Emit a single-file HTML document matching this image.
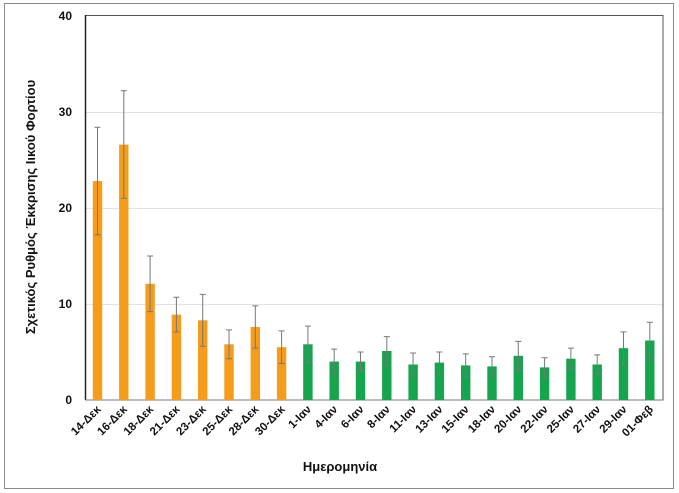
<!DOCTYPE html>
<html><head><meta charset="utf-8"><style>
html,body{margin:0;padding:0;background:#fff;}
svg{display:block;font-family:"Liberation Sans","DejaVu Sans",sans-serif;}
</style></head><body>
<svg width="679" height="493" viewBox="0 0 679 493" xmlns="http://www.w3.org/2000/svg">
<rect x="4.5" y="3.5" width="669" height="485" fill="#fff" stroke="#8a8a8a" stroke-width="1"/>
<g stroke="#e2e2e2" stroke-width="1">
<line x1="85" y1="304.5" x2="663" y2="304.5"/>
<line x1="85" y1="208.5" x2="663" y2="208.5"/>
<line x1="85" y1="112.5" x2="663" y2="112.5"/>
</g>
<rect x="85.5" y="15.5" width="577.5" height="384.5" fill="none" stroke="#555" stroke-width="1"/>
<line x1="85.5" y1="15" x2="85.5" y2="400" stroke="#222" stroke-width="1.5"/>
<line x1="85" y1="400" x2="663" y2="400" stroke="#777" stroke-width="1"/>
<g font-size="12" font-weight="bold" fill="#111" text-anchor="end">
<text x="72" y="404">0</text><text x="72" y="308">10</text><text x="72" y="212">20</text><text x="72" y="116">30</text><text x="72" y="20">40</text>
</g>
<g fill="#f59c1a">
<rect x="92.8" y="181.1" width="9.4" height="218.9"/>
<rect x="119.1" y="144.6" width="9.4" height="255.4"/>
<rect x="145.4" y="283.8" width="9.4" height="116.2"/>
<rect x="171.7" y="314.6" width="9.4" height="85.4"/>
<rect x="198.0" y="320.3" width="9.4" height="79.7"/>
<rect x="224.3" y="344.3" width="9.4" height="55.7"/>
<rect x="250.6" y="327.0" width="9.4" height="73.0"/>
<rect x="276.9" y="347.2" width="9.4" height="52.8"/>
</g>
<g fill="#14a54e">
<rect x="303.2" y="344.3" width="9.4" height="55.7"/>
<rect x="329.5" y="361.6" width="9.4" height="38.4"/>
<rect x="355.8" y="361.6" width="9.4" height="38.4"/>
<rect x="382.1" y="351.0" width="9.4" height="49.0"/>
<rect x="408.4" y="364.5" width="9.4" height="35.5"/>
<rect x="434.7" y="362.6" width="9.4" height="37.4"/>
<rect x="461.0" y="365.4" width="9.4" height="34.6"/>
<rect x="487.3" y="366.4" width="9.4" height="33.6"/>
<rect x="513.6" y="355.8" width="9.4" height="44.2"/>
<rect x="539.9" y="367.4" width="9.4" height="32.6"/>
<rect x="566.2" y="358.7" width="9.4" height="41.3"/>
<rect x="592.5" y="364.5" width="9.4" height="35.5"/>
<rect x="618.8" y="348.2" width="9.4" height="51.8"/>
<rect x="645.1" y="340.5" width="9.4" height="59.5"/>
</g>
<path fill="none" stroke="#777" stroke-width="1" d="
M97.5 127.3V234.9M94.5 127.3h6M94.5 234.9h6
M123.8 90.8V198.4M120.8 90.8h6M120.8 198.4h6
M150.1 256V311.6M147.1 256h6M147.1 311.6h6
M176.4 297.3V331.9M173.4 297.3h6M173.4 331.9h6
M202.7 294.4V346.2M199.7 294.4h6M199.7 346.2h6
M229 329.9V358.7M226 329.9h6M226 358.7h6
M255.3 305.9V348.1M252.3 305.9h6M252.3 348.1h6
M281.6 330.9V363.5M278.6 330.9h6M278.6 363.5h6
M307.9 326.1V362.5M304.9 326.1h6M304.9 362.5h6
M334.2 349.1V374.1M331.2 349.1h6M331.2 374.1h6
M360.5 352V371.2M357.5 352h6M357.5 371.2h6
M386.8 336.6V365.4M383.8 336.6h6M383.8 365.4h6
M413.1 353V376M410.1 353h6M410.1 376h6
M439.4 352V373.2M436.4 352h6M436.4 373.2h6
M465.7 353.9V376.9M462.7 353.9h6M462.7 376.9h6
M492 356.8V376M489 356.8h6M489 376h6
M518.3 341.4V370.2M515.3 341.4h6M515.3 370.2h6
M544.6 357.8V377M541.6 357.8h6M541.6 377h6
M570.9 348.1V369.3M567.9 348.1h6M567.9 369.3h6
M597.2 354.9V374.1M594.2 354.9h6M594.2 374.1h6
M623.5 331.9V364.5M620.5 331.9h6M620.5 364.5h6
M649.8 322.3V358.7M646.8 322.3h6M646.8 358.7h6"/>
<g font-size="11.5" font-weight="bold" fill="#111" text-anchor="end">
<text transform="translate(101.5,410) rotate(-45)">14-Δεκ</text>
<text transform="translate(127.8,410) rotate(-45)">16-Δεκ</text>
<text transform="translate(154.1,410) rotate(-45)">18-Δεκ</text>
<text transform="translate(180.4,410) rotate(-45)">21-Δεκ</text>
<text transform="translate(206.7,410) rotate(-45)">23-Δεκ</text>
<text transform="translate(233,410) rotate(-45)">25-Δεκ</text>
<text transform="translate(259.3,410) rotate(-45)">28-Δεκ</text>
<text transform="translate(285.6,410) rotate(-45)">30-Δεκ</text>
<text transform="translate(311.9,410) rotate(-45)">1-Ιαν</text>
<text transform="translate(338.2,410) rotate(-45)">4-Ιαν</text>
<text transform="translate(364.5,410) rotate(-45)">6-Ιαν</text>
<text transform="translate(390.8,410) rotate(-45)">8-Ιαν</text>
<text transform="translate(417.1,410) rotate(-45)">11-Ιαν</text>
<text transform="translate(443.4,410) rotate(-45)">13-Ιαν</text>
<text transform="translate(469.7,410) rotate(-45)">15-Ιαν</text>
<text transform="translate(496,410) rotate(-45)">18-Ιαν</text>
<text transform="translate(522.3,410) rotate(-45)">20-Ιαν</text>
<text transform="translate(548.6,410) rotate(-45)">22-Ιαν</text>
<text transform="translate(574.9,410) rotate(-45)">25-Ιαν</text>
<text transform="translate(601.2,410) rotate(-45)">27-Ιαν</text>
<text transform="translate(627.5,410) rotate(-45)">29-Ιαν</text>
<text transform="translate(653.8,410) rotate(-45)">01-Φεβ</text>
</g>
<text x="0" y="0" transform="translate(35,207) rotate(-90)" text-anchor="middle" font-size="13" font-weight="bold" fill="#111">Σχετικός Ρυθμός Έκκρισης Ιικού Φορτίου</text>
<text x="340" y="471" text-anchor="middle" font-size="13" font-weight="bold" fill="#111">Ημερομηνία</text>
</svg>
</body></html>
